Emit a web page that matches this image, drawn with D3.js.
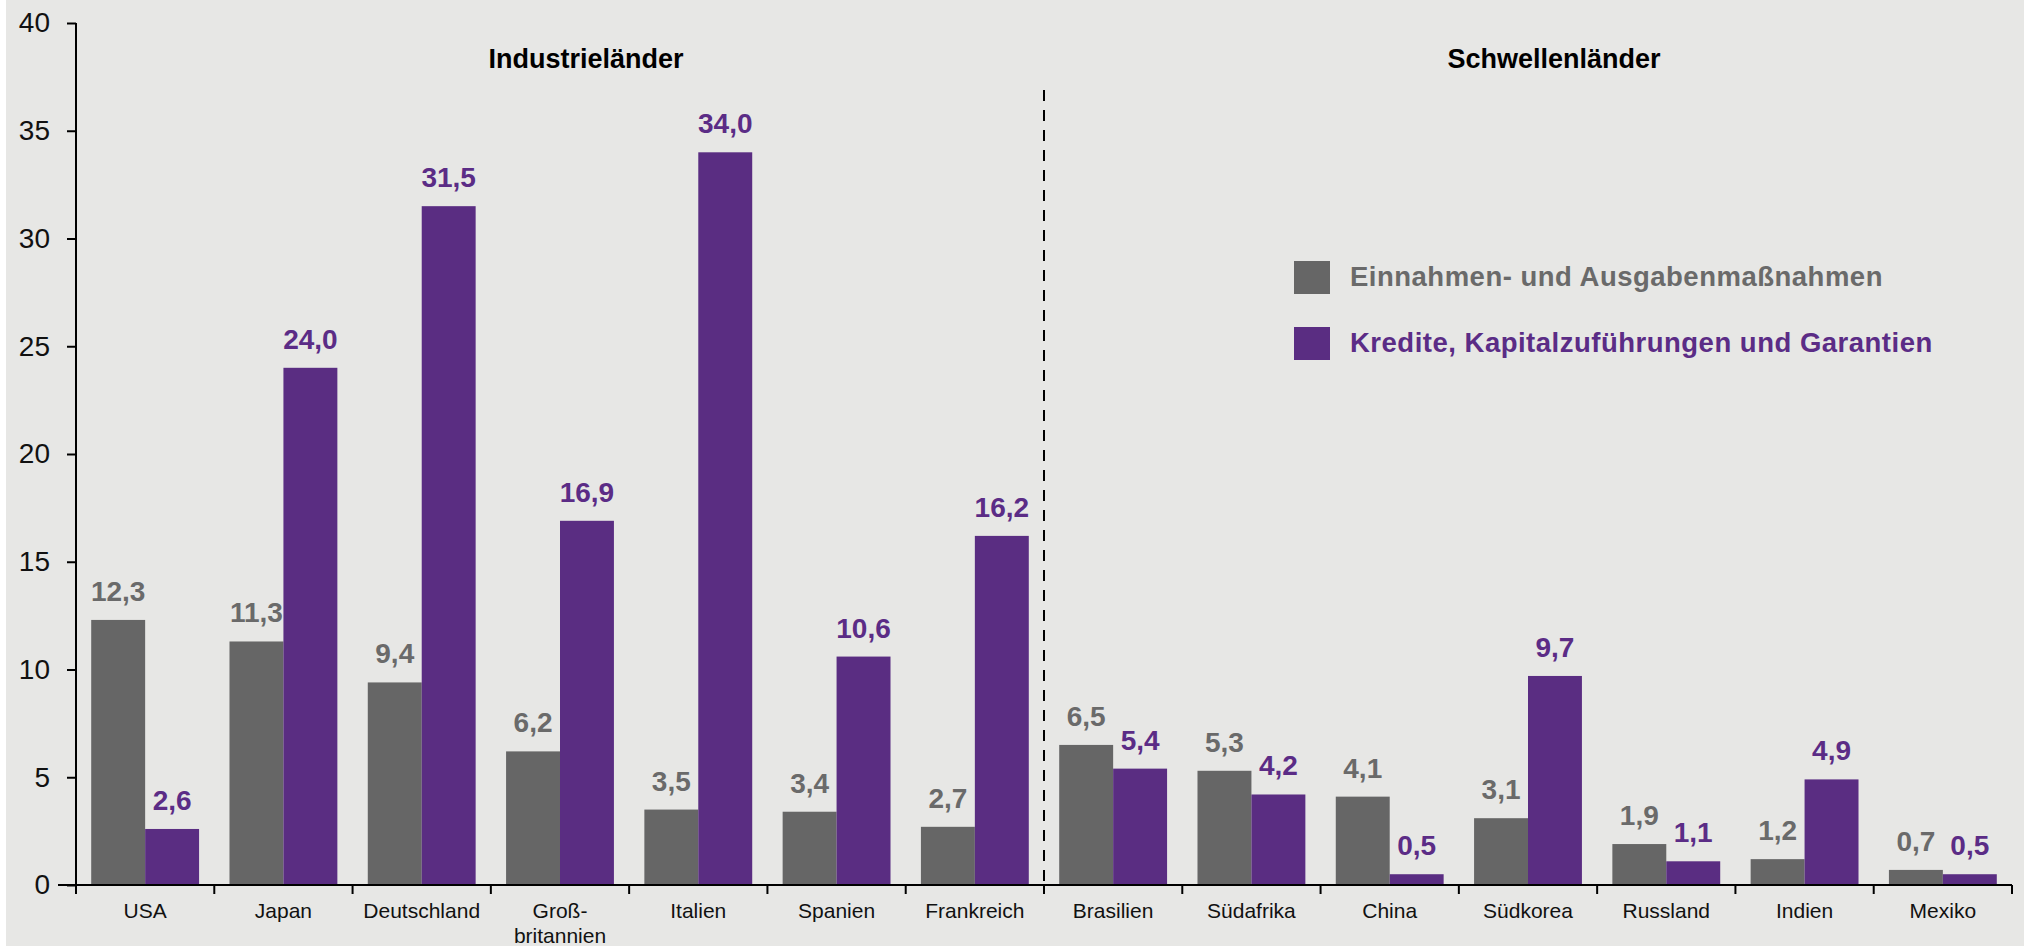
<!DOCTYPE html>
<html>
<head>
<meta charset="utf-8">
<script src="https://cdn.jsdelivr.net/npm/d3@7"></script>
<style>
  body { margin: 0; background: #fff; }
  svg { display: block; font-family: "Liberation Sans", Arial, sans-serif; }
  .axis path, .axis line { stroke: #000; stroke-width: 2; }
  .y-axis text { font-size: 28px; fill: #111; }
  .x-axis text { font-size: 21px; fill: #111; }
</style>
</head>
<body>
<div id="chart"></div>
<script>
// data
const countries = ["USA", "Japan", "Deutschland", "Groß-|britannien", "Italien", "Spanien", "Frankreich",
    "Brasilien", "Südafrika", "China", "Südkorea", "Russland", "Indien", "Mexiko"];
const einnahmen = [12.3, 11.3, 9.4, 6.2, 3.5, 3.4, 2.7, 6.5, 5.3, 4.1, 3.1, 1.9, 1.2, 0.7];
const kredite = [2.6, 24.0, 31.5, 16.9, 34.0, 10.6, 16.2, 5.4, 4.2, 0.5, 9.7, 1.1, 4.9, 0.5];
const seriesNames = ["Einnahmen- und Ausgabenmaßnahmen", "Kredite, Kapitalzuführungen und Garantien"];
const groupNames = ["Industrieländer", "Schwellenländer"];
const yTicks = [0, 5, 10, 15, 20, 25, 30, 35, 40];

const colors = ["#666666", "#5a2d82"];
const labelColors = ["#6a6a6a", "#5b2c86"];

const W = 2024, H = 946;
const m = { left: 76, right: 2012, top: 23, bottom: 885 };

const svg = d3.select("#chart").append("svg")
    .attr("width", W)
    .attr("height", H);

svg.append("rect")
    .attr("x", 6).attr("y", 0)
    .attr("width", W - 6).attr("height", H)
    .attr("fill", "#e7e7e5");

// scales
const x0 = d3.scaleBand()
    .domain(d3.range(countries.length))
    .range([m.left, m.right])
    .padding(0);

const x1 = d3.scaleBand()
    .domain([0, 1])
    .range([x0.bandwidth() * 0.11, x0.bandwidth() * 0.89])
    .padding(0);

const y = d3.scaleLinear()
    .domain([0, 40])
    .range([m.bottom, m.top]);

// y axis
svg.append("g")
    .attr("class", "y-axis axis")
    .attr("transform", `translate(${m.left},0)`)
    .call(d3.axisLeft(y).tickValues(yTicks).tickSize(9).tickSizeOuter(0).tickPadding(17))
    .call(g => g.select(".domain").attr("d", `M0,${m.top}V${m.bottom}`));

// bars
const rows = countries.map((c, i) => ({ i, vals: [einnahmen[i], kredite[i]] }));

const groups = svg.selectAll(".country")
    .data(rows)
    .enter()
    .append("g")
    .attr("class", "country")
    .attr("transform", d => `translate(${x0(d.i)},0)`);

groups.selectAll("rect")
    .data(d => d.vals.map((v, k) => ({ v, k })))
    .enter()
    .append("rect")
    .attr("x", d => x1(d.k))
    .attr("width", x1.bandwidth())
    .attr("y", d => y(d.v))
    .attr("height", d => y(0) - y(d.v))
    .attr("fill", d => colors[d.k]);

groups.selectAll(".val")
    .data(d => d.vals.map((v, k) => ({ v, k })))
    .enter()
    .append("text")
    .attr("class", "val")
    .attr("x", d => x1(d.k) + x1.bandwidth() / 2)
    .attr("y", d => y(d.v) - 19)
    .attr("text-anchor", "middle")
    .style("font-size", "28px")
    .style("font-weight", "bold")
    .style("fill", d => labelColors[d.k])
    .text(d => d.v.toFixed(1).replace(".", ","));

// x axis: ticks at band boundaries
const bounds = d3.range(countries.length + 1).map(i => m.left + i * x0.bandwidth());
const xAxis = svg.append("g")
    .attr("class", "x-axis axis")
    .attr("transform", `translate(0,${m.bottom})`);

xAxis.append("path")
    .attr("d", `M${m.left - 18},0H${m.right}`);

xAxis.selectAll("line")
    .data(bounds)
    .enter()
    .append("line")
    .attr("x1", d => d).attr("x2", d => d)
    .attr("y1", 0).attr("y2", 9);

xAxis.selectAll("text")
    .data(countries)
    .enter()
    .append("text")
    .attr("x", (d, i) => x0(i) + x0.bandwidth() / 2)
    .attr("y", 33)
    .attr("text-anchor", "middle")
    .each(function(d) {
        const parts = d.split("|");
        const tx = d3.select(this).attr("x");
        d3.select(this).selectAll("tspan")
            .data(parts)
            .enter()
            .append("tspan")
            .attr("x", tx)
            .attr("dy", (p, k) => k === 0 ? 0 : 25)
            .text(p => p);
    });

// divider between groups
const divX = x0(7);
svg.append("line")
    .attr("x1", divX).attr("x2", divX)
    .attr("y1", 90).attr("y2", m.bottom)
    .attr("stroke", "#000")
    .attr("stroke-width", 2)
    .attr("stroke-dasharray", "11,9");

// group titles
svg.selectAll(".group-title")
    .data(groupNames)
    .enter()
    .append("text")
    .attr("class", "group-title")
    .attr("x", (d, i) => (i === 0 ? (x0(0) + x0(6) + x0.bandwidth()) / 2 : (x0(7) + x0(13) + x0.bandwidth()) / 2) + 26)
    .attr("y", 68)
    .attr("text-anchor", "middle")
    .style("font-size", "27px")
    .style("font-weight", "bold")
    .style("fill", "#000")
    .text(d => d);

// legend
const legend = svg.append("g")
    .attr("transform", "translate(1294,261)");

const items = legend.selectAll("g")
    .data(seriesNames)
    .enter()
    .append("g")
    .attr("transform", (d, i) => `translate(0,${i * 66})`);

items.append("rect")
    .attr("width", 36)
    .attr("height", 33)
    .attr("fill", (d, i) => colors[i]);

items.append("text")
    .attr("x", 56)
    .attr("y", 25)
    .style("font-size", "27.5px")
    .style("font-weight", "bold")
    .style("letter-spacing", "0.5px")
    .style("fill", (d, i) => labelColors[i])
    .text(d => d);
</script>
</body>
</html>
